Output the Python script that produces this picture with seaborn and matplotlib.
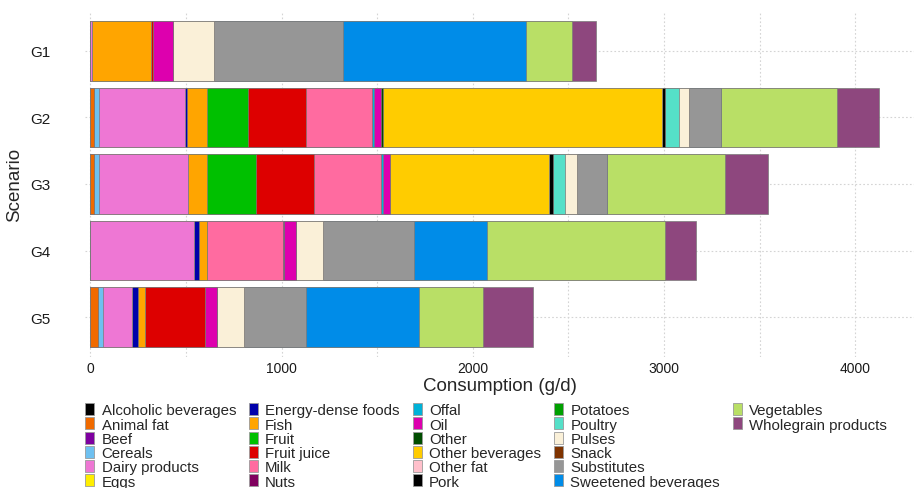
import matplotlib
matplotlib.use("Agg")
import matplotlib.pyplot as plt
from matplotlib.patches import Patch
from matplotlib.ticker import MultipleLocator
import seaborn as sns
import pandas as pd
import numpy as np

scenarios = ["G1", "G2", "G3", "G4", "G5"]

foods = ["Alcoholic beverages", "Animal fat", "Beef", "Cereals", "Dairy products", "Eggs",
         "Energy-dense foods", "Fish", "Fruit", "Fruit juice", "Milk", "Nuts",
         "Offal", "Oil", "Other", "Other beverages", "Other fat", "Pork",
         "Potatoes", "Poultry", "Pulses", "Snack", "Substitutes", "Sweetened beverages",
         "Vegetables", "Wholegrain products"]

colors = ["#000000", "#F06A00", "#7E00A0", "#6EC0F0", "#EE77D4", "#FFEE00",
          "#0000AA", "#FFA500", "#00C000", "#DD0000", "#FF6BA0", "#80005F",
          "#00B2D8", "#DD00AE", "#004D00", "#FFCC00", "#FFC0CB", "#000000",
          "#00A000", "#55E0C8", "#FAF0D8", "#7F3300", "#969696", "#008CE8",
          "#B9DF66", "#8E477E"]

# values in g/d, same order as foods
G1 = [0, 0, 0, 0, 10, 0, 0, 308, 0, 12, 0, 0, 0, 103, 0, 0, 0, 0,
      0, 0, 213, 0, 673, 958, 241, 125]
G2 = [0, 20, 0, 25, 448, 0, 12, 105, 214, 302, 349, 0, 9, 35, 9, 1464, 0, 16,
      0, 70, 54, 0, 164, 0, 610, 221]
G3 = [0, 20, 0, 25, 465, 0, 0, 99, 258, 302, 349, 0, 12, 38, 0, 830, 0, 21,
      0, 66, 59, 0, 159, 0, 614, 228]
G4 = [0, 0, 0, 0, 544, 0, 26, 38, 0, 0, 399, 5, 0, 64, 0, 0, 0, 0,
      0, 0, 141, 0, 478, 382, 931, 162]
G5 = [0, 42, 0, 24, 153, 0, 28, 37, 0, 317, 0, 0, 0, 61, 0, 0, 0, 0,
      0, 0, 141, 0, 326, 589, 338, 261]

values = {"G1": G1, "G2": G2, "G3": G3, "G4": G4, "G5": G5}

rows = []
for s in scenarios:
    cum = np.cumsum(values[s])
    for f, c in zip(foods, cum):
        rows.append({"Scenario": s, "Food": f, "cum": c})
df = pd.DataFrame(rows)

sns.set_theme(style="white")
plt.rcParams["font.family"] = ["Liberation Sans", "DejaVu Sans"]

W, H = 914, 489
fig = plt.figure(figsize=(W / 100, H / 100), dpi=100)
ax = fig.add_axes([85 / W, 1 - 358 / H, (914 - 85) / W, 346 / H])

# draw cumulative bars from the right-most food to the left-most
for f, col in reversed(list(zip(foods, colors))):
    sub = df[df["Food"] == f]
    sns.barplot(data=sub, x="cum", y="Scenario", order=scenarios, orient="h",
                color=col, saturation=1, width=0.9, edgecolor="#7a7a7a",
                linewidth=0.5, errorbar=None, ax=ax)

ax.set_xlim(-28, -28 + 829 / 0.1912)
ax.set_ylim(4.6, -0.6)
ax.xaxis.set_major_locator(MultipleLocator(1000))
ax.xaxis.set_minor_locator(MultipleLocator(500))
ax.set_axisbelow(True)
ax.grid(True, which="both", axis="x", color="#d4d4d4", linestyle=(0, (1.5, 2)), linewidth=0.8)
ax.grid(True, which="major", axis="y", color="#d4d4d4", linestyle=(0, (1.5, 2)), linewidth=0.8)
for sp in ax.spines.values():
    sp.set_visible(False)
ax.tick_params(axis="both", which="both", length=0, colors="#1a1a1a")
ax.tick_params(axis="x", pad=3, labelsize=10)
ax.tick_params(axis="y", pad=25, labelsize=11)
ax.set_xlabel("Consumption (g/d)", fontsize=13.5, labelpad=1)
ax.set_ylabel("Scenario", fontsize=13.5, labelpad=5)

handles = [Patch(facecolor=c, edgecolor="#9a9a9a", linewidth=0.6, label=f)
           for f, c in zip(foods, colors)]
handles += [Patch(facecolor="none", edgecolor="none", label="") for _ in range(4)]
fig.legend(handles=handles, ncol=5, loc="upper left",
           bbox_to_anchor=(85 / W, 1 - 404 / H), frameon=False, fontsize=10.8,
           handlelength=0.6, handleheight=0.87, handletextpad=0.5,
           labelspacing=0.0, columnspacing=0.85, borderpad=0, borderaxespad=0)

fig.savefig("out.png", dpi=100)
